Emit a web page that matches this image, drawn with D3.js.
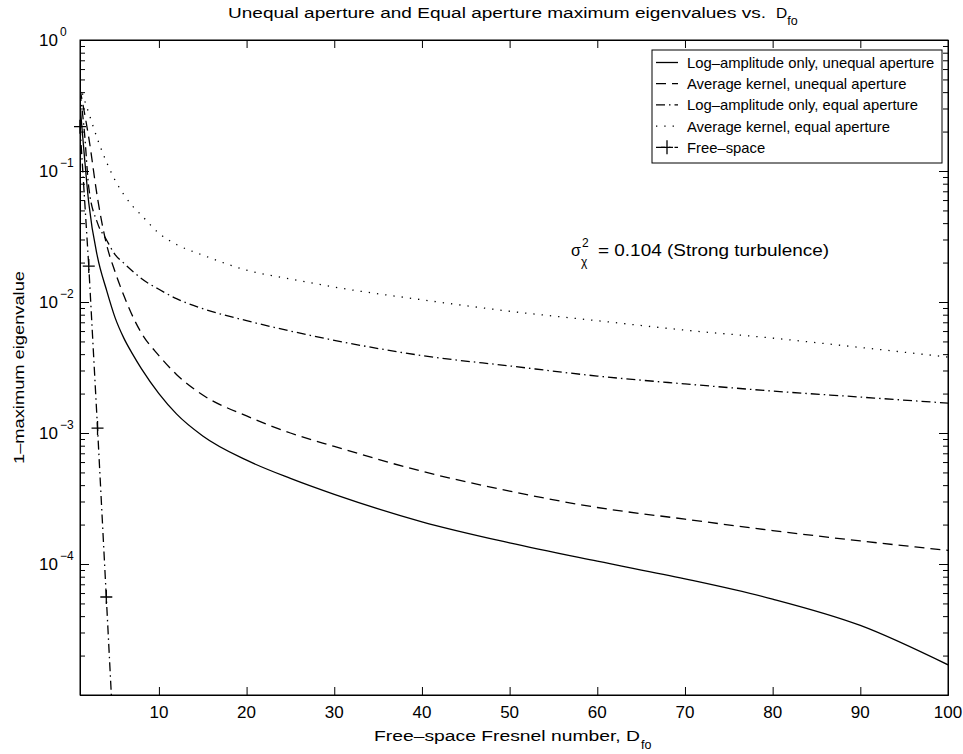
<!DOCTYPE html>
<html><head><meta charset="utf-8">
<script src="https://cdn.jsdelivr.net/npm/d3@7"></script>
<style>body{margin:0;background:#fff}</style>
</head><body>
<svg id="c" width="963" height="754"></svg>
<script>
// ---- data ----
const dfo = [1, 1.5, 2, 3, 4, 5, 6, 7, 8, 10, 12, 15, 20, 25, 30, 40, 50, 60, 70, 80, 90, 100];
const logAmpUnequal = [0.32, 0.13, 0.057, 0.022, 0.0125, 0.0076, 0.0053, 0.0040, 0.0031, 0.0020, 0.0014, 0.00095, 0.00062, 0.00045, 0.00034, 0.00021, 0.000145, 0.000105, 0.000077, 0.000054, 0.000034, 0.000017];
const avgKernelUnequal = [0.42, 0.28, 0.18, 0.062, 0.028, 0.017, 0.0112, 0.0078, 0.0058, 0.0039, 0.0028, 0.00195, 0.00135, 0.00100, 0.00079, 0.00051, 0.00036, 0.00027, 0.00022, 0.00018, 0.00015, 0.000127];
const logAmpEqual = [0.40, 0.20, 0.075, 0.040, 0.030, 0.023, 0.0198, 0.0172, 0.0151, 0.0125, 0.0106, 0.0089, 0.0072, 0.0060, 0.0051, 0.0039, 0.00325, 0.00272, 0.00237, 0.00209, 0.00188, 0.00169];
const avgKernelEqual = [0.45, 0.35, 0.277, 0.175, 0.118, 0.085, 0.066, 0.054, 0.046, 0.0335, 0.0275, 0.0228, 0.0175, 0.0150, 0.0130, 0.0104, 0.0085, 0.0072, 0.0061, 0.0053, 0.0045, 0.0038];
const freeSpaceX = [1, 2, 3, 4, 5];
const freeSpace = [0.218, 0.0188, 0.00109, 0.000056, 0.0000028];
const xTicks = [10, 20, 30, 40, 50, 60, 70, 80, 90, 100];
const yExponents = [0, -1, -2, -3, -4];
const legendLabels = ["Log\u2013amplitude only, unequal aperture", "Average kernel, unequal aperture", "Log\u2013amplitude only, equal aperture", "Average kernel, equal aperture", "Free\u2013space"];

const FONT = "'Liberation Sans', Arial, Helvetica, sans-serif";
const L = 80, R = 948, T = 40, B = 695;
const svg = d3.select("#c").style("font-family", FONT);
svg.append("rect").attr("width", 963).attr("height", 754).attr("fill", "#fff");

const x = d3.scaleLinear().domain([1, 100]).range([L, R]);
const y = d3.scaleLog().domain([1e-5, 1]).range([B, T]);

const styles = [
  {dash: null},
  {dash: "10,6"},
  {dash: "9,4,1.5,4"},
  {dash: "1.3,7"},
  {dash: "9,4,1.5,4"}
];

svg.append("defs").append("clipPath").attr("id", "clip")
  .append("rect").attr("x", L).attr("y", T).attr("width", R - L).attr("height", B - T);

const line = d3.line().x(d => x(d[0])).y(d => y(d[1])).curve(d3.curveMonotoneX);
const series = [logAmpUnequal, avgKernelUnequal, logAmpEqual, avgKernelEqual];
const g = svg.append("g").attr("clip-path", "url(#clip)");
series.forEach((s, i) => {
  g.append("path").datum(dfo.map((v, j) => [v, s[j]]))
    .attr("d", line).attr("fill", "none").attr("stroke", "#000")
    .attr("stroke-width", 1.3).attr("stroke-dasharray", styles[i].dash);
});
const fsData = freeSpaceX.map((v, j) => [v, freeSpace[j]]);
g.append("path").datum(fsData)
  .attr("d", d3.line().x(d => x(d[0])).y(d => y(d[1])))
  .attr("fill", "none").attr("stroke", "#000").attr("stroke-width", 1.3)
  .attr("stroke-dasharray", styles[4].dash);
const plus = "M-6,0H6M0,-7V7";
svg.append("g").selectAll("path").data(fsData.filter(d => d[1] >= 1e-5)).join("path")
  .attr("transform", d => `translate(${x(d[0])},${y(d[1])})`)
  .attr("d", plus).attr("stroke", "#000").attr("stroke-width", 1.3).attr("fill", "none");

// axes (inward ticks)
const minorY = [];
for (let e = -5; e < 0; e++) for (let m = 2; m <= 9; m++) minorY.push(m * Math.pow(10, e));
const majorY = yExponents.map(e => Math.pow(10, e)).concat([1e-5]);

function styleAxis(sel) {
  sel.selectAll("path,line").attr("stroke", "#000").attr("stroke-width", 1);
  sel.selectAll("text").remove();
}
svg.append("g").attr("transform", `translate(0,${B})`)
  .call(d3.axisBottom(x).tickValues(xTicks).tickSizeInner(-8).tickSizeOuter(0)).call(styleAxis);
svg.append("g").attr("transform", `translate(0,${T})`)
  .call(d3.axisTop(x).tickValues(xTicks).tickSizeInner(-8).tickSizeOuter(0)).call(styleAxis);
svg.append("g").attr("transform", `translate(${L},0)`)
  .call(d3.axisLeft(y).tickValues(majorY).tickSizeInner(-9).tickSizeOuter(0)).call(styleAxis);
svg.append("g").attr("transform", `translate(${L},0)`)
  .call(d3.axisLeft(y).tickValues(minorY).tickSizeInner(-5).tickSizeOuter(0)).call(styleAxis);
svg.append("g").attr("transform", `translate(${R},0)`)
  .call(d3.axisRight(y).tickValues(majorY).tickSizeInner(-9).tickSizeOuter(0)).call(styleAxis);
svg.append("g").attr("transform", `translate(${R},0)`)
  .call(d3.axisRight(y).tickValues(minorY).tickSizeInner(-5).tickSizeOuter(0)).call(styleAxis);

// x tick labels
svg.append("g").selectAll("text").data(xTicks).join("text")
  .attr("x", d => x(d)).attr("y", B + 23).attr("text-anchor", "middle")
  .attr("font-size", 17).text(d => d);

// y tick labels 10^e
const yl = svg.append("g").selectAll("text").data(yExponents).join("text")
  .attr("x", 39).attr("y", d => y(Math.pow(10, d)) + 6).attr("font-size", 17);
yl.append("tspan").text("10");
yl.append("tspan").attr("dy", -10).attr("dx", 2).attr("font-size", 12).text(d => d === 0 ? "0" : "\u2212" + (-d));

// frame
svg.append("rect").attr("x", L).attr("y", T).attr("width", R - L).attr("height", B - T)
  .attr("fill", "none").attr("stroke", "#000").attr("stroke-width", 1);

// title
svg.append("text").attr("x", 228).attr("y", 18).attr("font-size", 15.5)
  .attr("textLength", 538).attr("lengthAdjust", "spacingAndGlyphs")
  .text("Unequal aperture and Equal aperture maximum eigenvalues vs.");
const tD = svg.append("text").attr("x", 776).attr("y", 18).attr("font-size", 15.5);
tD.append("tspan").text("D");
tD.append("tspan").attr("dy", 7).attr("font-size", 12.5).text("fo");

// x label
svg.append("text").attr("x", 374).attr("y", 741).attr("font-size", 15.5)
  .attr("textLength", 266).attr("lengthAdjust", "spacingAndGlyphs")
  .text("Free\u2013space Fresnel number, D");
svg.append("text").attr("x", 641).attr("y", 749).attr("font-size", 12.5).text("fo");

// y label
svg.append("text").attr("transform", `translate(24,${(T + B) / 2}) rotate(-90)`)
  .attr("text-anchor", "middle").attr("font-size", 15.5)
  .attr("textLength", 193).attr("lengthAdjust", "spacingAndGlyphs")
  .text("1\u2013maximum eigenvalue");

// annotation
svg.append("text").attr("x", 571).attr("y", 256).attr("font-size", 16).text("\u03C3");
svg.append("text").attr("x", 582).attr("y", 247).attr("font-size", 12).text("2");
svg.append("text").attr("x", 581).attr("y", 266).attr("font-size", 12).text("\u03C7");
svg.append("text").attr("x", 598).attr("y", 256).attr("font-size", 16)
  .attr("textLength", 231).attr("lengthAdjust", "spacingAndGlyphs")
  .text("= 0.104 (Strong turbulence)");

// legend
const lg = svg.append("g");
lg.append("rect").attr("x", 652).attr("y", 50).attr("width", 290).attr("height", 113)
  .attr("fill", "#fff").attr("stroke", "#000").attr("stroke-width", 1);
const rows = legendLabels.map((t, i) => ({t, i, yy: 62.5 + i * 21.2}));
rows.forEach(r => {
  lg.append("line").attr("x1", 656).attr("x2", 678).attr("y1", r.yy).attr("y2", r.yy)
    .attr("stroke", "#000").attr("stroke-width", 1.3).attr("stroke-dasharray", styles[r.i].dash);
  if (r.i === 4) lg.append("path").attr("transform", `translate(667,${r.yy})`).attr("d", plus)
    .attr("stroke", "#000").attr("stroke-width", 1.3);
  lg.append("text").attr("x", 687).attr("y", r.yy + 5.5).attr("font-size", 14.8).text(r.t);
});
</script>
</body></html>
